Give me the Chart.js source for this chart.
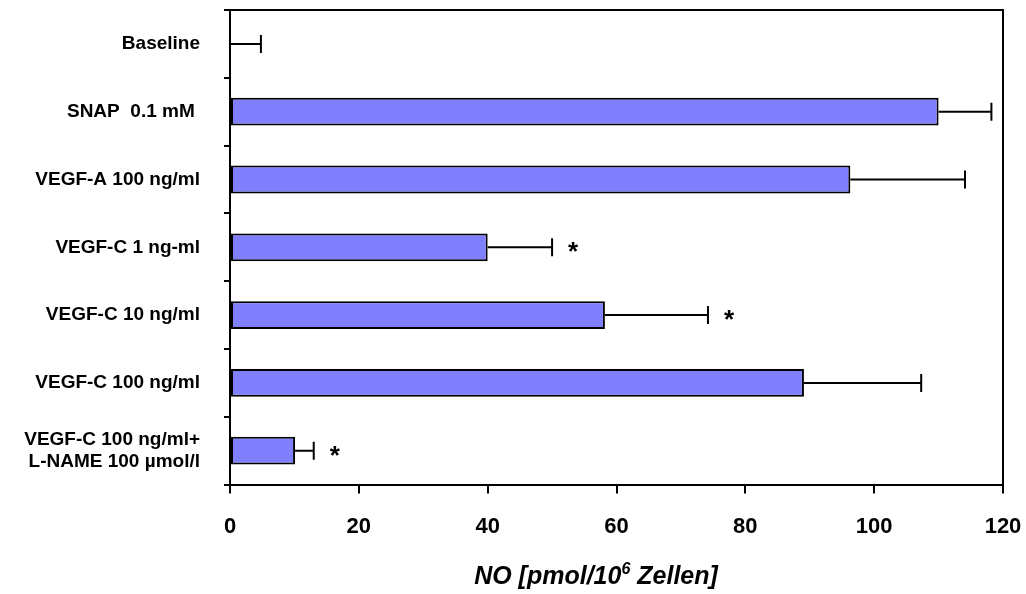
<!DOCTYPE html>
<html>
<head>
<meta charset="utf-8">
<script src="https://cdn.jsdelivr.net/npm/chart.js@4"></script>
<style>
    html, body { margin: 0; padding: 0; background: #fff; }
    #wrap { position: relative; width: 1026px; height: 594px; }
    #axis-title {
        position: absolute; left: 0; width: 1192px; top: 561px; text-align: center;
        font: italic bold 25px "Liberation Sans", Arial, sans-serif; color: #000;
    }
    #axis-title sup { font-size: 16px; vertical-align: 10px; line-height: 0; }
</style>
</head>
<body>
<div id="wrap">
    <canvas id="chart" width="1026" height="594"></canvas>
    <div id="axis-title">NO [pmol/10<sup>6</sup> Zellen]</div>
</div>
<script>
const categories = ['Baseline', 'SNAP  0.1 mM ', 'VEGF-A 100 ng/ml', 'VEGF-C 1 ng-ml', 'VEGF-C 10 ng/ml', 'VEGF-C 100 ng/ml', ['VEGF-C 100 ng/ml+', 'L-NAME 100 \u00b5mol/l']];
const noValues = [0, 110, 96.3, 40, 58.2, 89.1, 10.1];
const noErrors = [4.8, 8.2, 17.8, 10, 16, 18.2, 2.9];
const significant = [false, false, false, true, true, false, true];
const xTicks = [0, 20, 40, 60, 80, 100, 120];

const FONT = '"Liberation Sans", Arial, sans-serif';

// error bars + asterisks
const errorBarPlugin = {
    id: 'errorBars',
    afterDatasetsDraw(chart) {
        const ctx = chart.ctx;
        const xs = chart.scales.x, ys = chart.scales.y;
        ctx.save();
        ctx.strokeStyle = '#000';
        ctx.lineWidth = 2;
        noValues.forEach((v, i) => {
            const y = ys.getPixelForValue(i);
            const x0 = xs.getPixelForValue(v);
            const x1 = xs.getPixelForValue(v + noErrors[i]);
            ctx.beginPath();
            ctx.moveTo(x0, y); ctx.lineTo(x1, y);
            ctx.moveTo(x1, y - 9); ctx.lineTo(x1, y + 9);
            ctx.stroke();
            if (significant[i]) {
                ctx.fillStyle = '#000';
                ctx.font = 'bold 26px ' + FONT;
                ctx.textAlign = 'center';
                ctx.textBaseline = 'middle';
                ctx.fillText('*', x1 + 21, y + 6);
            }
        });
        ctx.restore();
    }
};

// top and right frame lines
const framePlugin = {
    id: 'frame',
    afterDraw(chart) {
        const a = chart.chartArea, ctx = chart.ctx;
        ctx.save();
        ctx.strokeStyle = '#000';
        ctx.lineWidth = 2;
        ctx.beginPath();
        ctx.moveTo(a.left, a.top); ctx.lineTo(a.right, a.top); ctx.lineTo(a.right, a.bottom);
        ctx.stroke();
        ctx.restore();
    }
};

new Chart(document.getElementById('chart'), {
    type: 'bar',
    data: {
        labels: categories,
        datasets: [{
            data: noValues,
            backgroundColor: '#8080ff',
            borderColor: '#000',
            borderWidth: 2,
            borderSkipped: false,
            categoryPercentage: 1,
            barPercentage: 0.41
        }]
    },
    options: {
        indexAxis: 'y',
        responsive: false,
        animation: false,
        layout: { padding: { top: 10, right: 23, bottom: 34, left: 0 } },
        plugins: { legend: { display: false }, tooltip: { enabled: false } },
        scales: {
            x: {
                min: 0, max: 120,
                afterBuildTicks: s => { s.ticks = xTicks.map(v => ({ value: v })); },
                afterFit: s => { s.paddingLeft = 0; s.paddingRight = 0; },
                grid: { drawOnChartArea: false, drawTicks: true, tickLength: 9, color: '#000', lineWidth: 2 },
                border: { display: true, color: '#000', width: 2 },
                ticks: { color: '#000', padding: 20, font: { family: FONT, size: 22, weight: 'bold' } }
            },
            y: {
                afterFit: s => { s.width = 230; s.paddingTop = 0; s.paddingBottom = 0; },
                grid: { offset: true, drawOnChartArea: false, drawTicks: true, tickLength: 6, color: '#000', lineWidth: 2 },
                border: { display: true, color: '#000', width: 2 },
                ticks: { color: '#000', padding: 24, font: { family: FONT, size: 19, weight: 'bold' } }
            }
        }
    },
    plugins: [errorBarPlugin, framePlugin]
});
</script>
</body>
</html>
